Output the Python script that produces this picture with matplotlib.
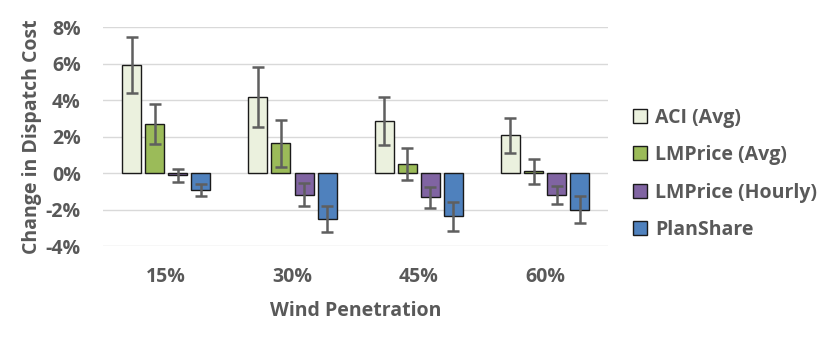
import matplotlib.pyplot as plt
import numpy as np

categories = ["15%", "30%", "45%", "60%"]
series = ["ACI (Avg)", "LMPrice (Avg)", "LMPrice (Hourly)", "PlanShare"]

aci_avg = [5.94, 4.16, 2.85, 2.07]
aci_err = [1.53, 1.65, 1.32, 0.96]
lmp_avg = [2.71, 1.64, 0.51, 0.11]
lmp_avg_err = [1.10, 1.28, 0.89, 0.68]
lmp_hourly = [-0.12, -1.18, -1.33, -1.18]
lmp_hourly_err = [0.36, 0.63, 0.57, 0.50]
planshare = [-0.91, -2.50, -2.37, -2.00]
planshare_err = [0.32, 0.71, 0.80, 0.75]

values = [aci_avg, lmp_avg, lmp_hourly, planshare]
errors = [aci_err, lmp_avg_err, lmp_hourly_err, planshare_err]
colors = ["#EBF1DE", "#9BBB59", "#8064A2", "#4F81BD"]

text_color = "#595959"
fs = 14
plt.rcParams["font.family"] = ["Open Sans", "DejaVu Sans"]
plt.rcParams["font.weight"] = "bold"

fig = plt.figure(figsize=(8.31, 3.39), dpi=100)
ax = fig.add_axes([0.124, 0.274, 0.608, 0.646])

x = np.arange(len(categories))
width = 0.15
pitch = 0.183
for i, (vals, errs) in enumerate(zip(values, errors)):
    pos = x + (i - 1.5) * pitch
    ax.bar(pos, vals, width, color=colors[i], edgecolor="#1a1a1a", linewidth=1,
           label=series[i], zorder=3)
    ax.errorbar(pos, vals, yerr=errs, fmt="none", ecolor="#5f5f5f",
                elinewidth=1.8, capsize=4, capthick=1.8, zorder=4)

ax.set_xlim(-0.5, 3.5)
ax.set_ylim(-4, 8)
ax.set_yticks(range(-4, 9, 2))
ax.set_yticklabels([f"{t}%" for t in range(-4, 9, 2)])
ax.set_xticks(x)
ax.set_xticklabels(categories)
ax.yaxis.grid(True, color="#D9D9D9", linewidth=1, zorder=0)
ax.set_axisbelow(True)
for s in ax.spines.values():
    s.set_visible(False)
ax.tick_params(axis="both", length=0, labelsize=fs, colors=text_color)
ax.tick_params(axis="x", pad=15)
ax.tick_params(axis="y", pad=16)

ax.set_xlabel("Wind Penetration", fontsize=fs, color=text_color, fontweight="bold", labelpad=10)
ax.set_ylabel("Change in Dispatch Cost", fontsize=fs, color=text_color, fontweight="bold", labelpad=3)

leg = ax.legend(loc="center left", bbox_to_anchor=(1.015, 0.33), frameon=False,
                fontsize=fs, handlelength=0.72, handleheight=0.72, handletextpad=0.4,
                labelspacing=0.9)
for t in leg.get_texts():
    t.set_color(text_color)

fig.savefig("out.png", dpi=100)
